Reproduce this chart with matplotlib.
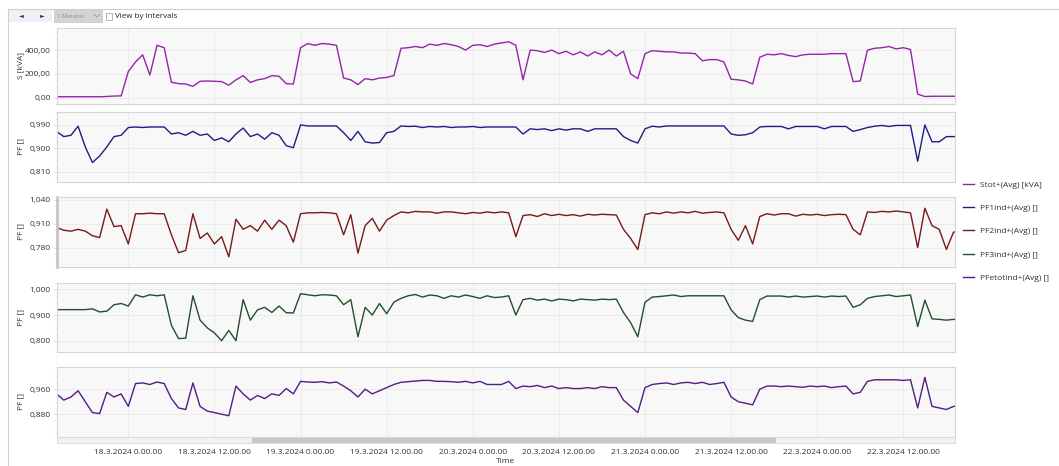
import matplotlib.pyplot as plt
from matplotlib.ticker import FuncFormatter, AutoMinorLocator
from matplotlib.patches import Rectangle
from matplotlib.lines import Line2D

plt.rcParams['font.family'] = ['Open Sans', 'DejaVu Sans']

# hours since 18.3.2024 0:00, one reading per hour
hours = list(range(-10, 117))

stot = [8, 8, 8, 8, 8, 8, 8, 10, 14, 15,
        220, 300, 360, 190, 440, 420, 130, 118, 115, 95,
        138, 140, 138, 135, 105, 150, 185, 128, 150, 160,
        185, 180, 118, 115, 420, 455, 440, 455, 450, 440,
        165, 150, 110, 160, 150, 165, 170, 185, 415, 420,
        430, 420, 450, 440, 455, 445, 430, 400, 440, 445,
        430, 450, 460, 470, 440, 150, 400, 395, 380, 400,
        370, 390, 360, 385, 350, 385, 360, 400, 350, 390,
        200, 160, 370, 395, 390, 385, 385, 375, 375, 370,
        310, 320, 320, 300, 155, 150, 140, 115, 340, 365,
        360, 370, 355, 345, 360, 365, 365, 365, 370, 370,
        370, 135, 140, 400, 415, 420, 430, 410, 420, 405,
        30, 10, 12, 12, 12, 12, 12]

pf1 = [0.965, 0.945, 0.950, 0.985, 0.905, 0.845, 0.870, 0.905, 0.945, 0.950,
       0.980, 0.982, 0.980, 0.982, 0.982, 0.982, 0.955, 0.960, 0.950, 0.965,
       0.950, 0.955, 0.930, 0.940, 0.925, 0.955, 0.978, 0.945, 0.955, 0.935,
       0.960, 0.950, 0.910, 0.902, 0.990, 0.986, 0.986, 0.986, 0.986, 0.986,
       0.960, 0.930, 0.965, 0.925, 0.920, 0.922, 0.960, 0.965, 0.986, 0.984,
       0.985, 0.980, 0.984, 0.982, 0.984, 0.980, 0.982, 0.982, 0.984, 0.980,
       0.982, 0.982, 0.982, 0.982, 0.982, 0.955, 0.975, 0.972, 0.975, 0.968,
       0.975, 0.970, 0.975, 0.975, 0.965, 0.975, 0.975, 0.975, 0.975, 0.945,
       0.930, 0.920, 0.975, 0.985, 0.982, 0.986, 0.986, 0.986, 0.986, 0.986,
       0.986, 0.986, 0.986, 0.986, 0.955, 0.950, 0.952, 0.960, 0.982, 0.984,
       0.984, 0.984, 0.975, 0.984, 0.984, 0.984, 0.984, 0.975, 0.984, 0.984,
       0.984, 0.965, 0.972, 0.980, 0.985, 0.988, 0.984, 0.988, 0.988, 0.988,
       0.850, 0.990, 0.925, 0.925, 0.945, 0.945, 0.945]

pf2 = [0.890, 0.875, 0.870, 0.880, 0.870, 0.845, 0.835, 0.990, 0.895, 0.900,
       0.800, 0.965, 0.965, 0.968, 0.965, 0.965, 0.850, 0.752, 0.765, 0.965,
       0.830, 0.860, 0.800, 0.840, 0.730, 0.935, 0.880, 0.900, 0.870, 0.930,
       0.880, 0.930, 0.900, 0.810, 0.965, 0.970, 0.970, 0.972, 0.970, 0.965,
       0.850, 0.960, 0.750, 0.900, 0.940, 0.870, 0.930, 0.955, 0.975, 0.970,
       0.978, 0.975, 0.975, 0.968, 0.975, 0.975, 0.970, 0.965, 0.972, 0.968,
       0.975, 0.970, 0.975, 0.970, 0.840, 0.955, 0.960, 0.950, 0.965, 0.955,
       0.962, 0.955, 0.960, 0.952, 0.962, 0.958, 0.962, 0.960, 0.958, 0.880,
       0.830, 0.770, 0.960, 0.970, 0.965, 0.975, 0.968, 0.975, 0.970, 0.978,
       0.968, 0.972, 0.975, 0.970, 0.880, 0.820, 0.900, 0.800, 0.950, 0.965,
       0.958, 0.965, 0.965, 0.952, 0.962, 0.958, 0.962, 0.955, 0.960, 0.962,
       0.960, 0.880, 0.850, 0.975, 0.972, 0.978, 0.975, 0.980, 0.975, 0.970,
       0.780, 0.995, 0.900, 0.880, 0.770, 0.865, 0.865]

pf3 = [0.921, 0.921, 0.921, 0.921, 0.921, 0.924, 0.912, 0.915, 0.940, 0.945,
       0.935, 0.979, 0.970, 0.979, 0.975, 0.979, 0.860, 0.808, 0.810, 0.975,
       0.880, 0.850, 0.830, 0.800, 0.840, 0.800, 0.960, 0.880, 0.920, 0.930,
       0.910, 0.935, 0.909, 0.908, 0.983, 0.979, 0.975, 0.979, 0.978, 0.975,
       0.940, 0.960, 0.815, 0.930, 0.900, 0.945, 0.905, 0.950, 0.965, 0.975,
       0.980, 0.970, 0.978, 0.975, 0.965, 0.975, 0.970, 0.978, 0.972, 0.965,
       0.975, 0.968, 0.970, 0.975, 0.900, 0.960, 0.965, 0.958, 0.962, 0.955,
       0.962, 0.960, 0.955, 0.962, 0.960, 0.958, 0.962, 0.960, 0.962, 0.910,
       0.870, 0.815, 0.950, 0.970, 0.972, 0.975, 0.978, 0.972, 0.975, 0.975,
       0.975, 0.975, 0.975, 0.975, 0.920, 0.890, 0.880, 0.875, 0.960, 0.974,
       0.974, 0.974, 0.970, 0.974, 0.970, 0.972, 0.974, 0.970, 0.974, 0.972,
       0.974, 0.930, 0.940, 0.965, 0.972, 0.975, 0.978, 0.972, 0.975, 0.978,
       0.855, 0.958, 0.885, 0.883, 0.880, 0.883, 0.883]

pfetot = [0.945, 0.925, 0.935, 0.955, 0.920, 0.885, 0.882, 0.950, 0.935, 0.945,
          0.905, 0.978, 0.980, 0.975, 0.983, 0.978, 0.930, 0.900, 0.895, 0.980,
          0.905, 0.890, 0.885, 0.880, 0.875, 0.970, 0.945, 0.925, 0.940, 0.930,
          0.945, 0.940, 0.962, 0.945, 0.985, 0.983, 0.982, 0.984, 0.980, 0.983,
          0.970, 0.955, 0.935, 0.960, 0.945, 0.955, 0.965, 0.975, 0.982, 0.984,
          0.986, 0.988, 0.988, 0.985, 0.985, 0.984, 0.982, 0.985, 0.980, 0.985,
          0.975, 0.975, 0.975, 0.985, 0.962, 0.970, 0.968, 0.972, 0.965, 0.970,
          0.962, 0.965, 0.962, 0.962, 0.965, 0.962, 0.968, 0.965, 0.965, 0.925,
          0.905, 0.885, 0.965, 0.975, 0.978, 0.980, 0.975, 0.980, 0.982, 0.978,
          0.982, 0.975, 0.978, 0.982, 0.935, 0.920, 0.915, 0.910, 0.960, 0.970,
          0.970, 0.968, 0.970, 0.968, 0.966, 0.970, 0.968, 0.970, 0.965, 0.968,
          0.970, 0.945, 0.950, 0.985, 0.990, 0.990, 0.990, 0.990, 0.988, 0.990,
          0.900, 0.998, 0.905, 0.900, 0.895, 0.905, 0.905]

names = ['Stot+(Avg) [kVA]', 'PF1ind+(Avg) []', 'PF2ind+(Avg) []',
         'PF3ind+(Avg) []', 'PFetotind+(Avg) []']
y_labels = ['S [kVA]', 'PF []', 'PF []', 'PF []', 'PF []']
y_ticks = [[0, 200, 400], [0.81, 0.90, 0.99], [0.78, 0.91, 1.04],
           [0.80, 0.90, 1.00], [0.88, 0.96]]

tick_hours = [0, 12, 24, 36, 48, 60, 72, 84, 96, 108]
tick_labels = ['18.3.2024 0.00.00', '18.3.2024 12.00.00', '19.3.2024 0.00.00',
               '19.3.2024 12.00.00', '20.3.2024 0.00.00', '20.3.2024 12.00.00',
               '21.3.2024 0.00.00', '21.3.2024 12.00.00', '22.3.2024 0.00.00',
               '22.3.2024 12.00.00']

series = [stot, pf1, pf2, pf3, pfetot]
colors = ['#9326a8', '#1c1f82', '#761a1a', '#22502a', '#521e82']
y_limits = [(-53, 588), (0.771, 1.041), (0.676, 1.058), (0.757, 1.026), (0.808, 1.030)]
panel_px = [(27.7, 104), (111.7, 181.7), (196.7, 266.7), (282.7, 351.7), (367.3, 436.7)]

W, H = 1059, 466
TXT = '#333333'


def box(left, top, right, bottom):
    return [left / W, 1 - bottom / H, (right - left) / W, (bottom - top) / H]


def kva_fmt(v, pos):
    return f'{v:.2f}'.replace('.', ',')


def pf_fmt(v, pos):
    return f'{v:.3f}'.replace('.', ',')


fig = plt.figure(figsize=(W / 100, H / 100), dpi=100)
fig.patch.set_facecolor('white')

# outer frame and toolbar
fig.add_artist(Line2D([8 / W, 8 / W], [0, 1 - 9 / H], color='#cfcfcf', lw=0.8))
fig.add_artist(Line2D([8 / W, 1], [1 - 9 / H, 1 - 9 / H], color='#cfcfcf', lw=0.8))
fig.add_artist(Rectangle((9 / W, 1 - 22 / H), 43 / W, 12 / H, facecolor='#eef0f3',
                         edgecolor='none', transform=fig.transFigure))
fig.text(21 / W, 1 - 16 / H, '\u25c4', fontsize=4.5, color='#1e3c78',
         ha='center', va='center', family='DejaVu Sans')
fig.text(42 / W, 1 - 16 / H, '\u25ba', fontsize=4.5, color='#1e3c78',
         ha='center', va='center', family='DejaVu Sans')
fig.add_artist(Rectangle((54 / W, 1 - 22 / H), 48 / W, 12 / H, facecolor='#d4d4d4',
                         edgecolor='#c4c4c4', lw=0.5, transform=fig.transFigure))
fig.text(57 / W, 1 - 16 / H, '1 Minutes', fontsize=4.2, color='#8a8a8a', va='center')
fig.add_artist(Line2D([94 / W, 97 / W, 100 / W], [1 - 14.5 / H, 1 - 17 / H, 1 - 14.5 / H],
                      color='#9a9a9a', lw=0.6))
fig.add_artist(Rectangle((106 / W, 1 - 20 / H), 6 / W, 7 / H, facecolor='white',
                         edgecolor='#a8a8a8', lw=0.6, transform=fig.transFigure))
fig.text(115 / W, 1 - 16 / H, 'View by intervals', fontsize=5.8, color='#222222', va='center')

axes = []
for i, (vals, col) in enumerate(zip(series, colors)):
    top, bottom = panel_px[i]
    ax = fig.add_axes(box(57, top, 955, bottom))
    ax.set_facecolor('#f8f8f8')
    ax.plot(hours, vals, color=col, lw=1.0)
    ax.set_xlim(-9.94, 115.2)
    ax.set_ylim(*y_limits[i])
    ax.set_yticks(y_ticks[i])
    ax.yaxis.set_major_formatter(FuncFormatter(kva_fmt if i == 0 else pf_fmt))
    ax.yaxis.set_minor_locator(AutoMinorLocator(4))
    ax.set_xticks(tick_hours)
    ax.set_xticklabels([])
    ax.grid(True, which='major', color='#e9e9e9', lw=0.6)
    ax.tick_params(axis='y', which='major', labelsize=6, labelcolor=TXT,
                   length=2.5, width=0.5, color='#c8c8c8', pad=2)
    ax.tick_params(axis='y', which='minor', length=1.5, width=0.4, color='#d0d0d0')
    ax.tick_params(axis='x', length=0)
    for sp in ax.spines.values():
        sp.set_color('#d6d6d6')
        sp.set_linewidth(0.8)
    ax.set_ylabel(y_labels[i], fontsize=6, color=TXT)
    ax.yaxis.set_label_coords(-0.037, 0.5)
    axes.append(ax)

axes[2].spines['left'].set_linewidth(2.0)
axes[2].spines['left'].set_color('#c6c6c6')

bottom_ax = axes[-1]
bottom_ax.set_xticklabels(tick_labels)
bottom_ax.tick_params(axis='x', labelsize=6, labelcolor=TXT, pad=8.5)
bottom_ax.set_xlabel('Time', fontsize=6, color=TXT, labelpad=1.5)

# scrollbar under the bottom panel
sb = fig.add_axes(box(57, 437, 955, 443))
sb.set_xlim(0, 1)
sb.set_ylim(0, 1)
sb.set_facecolor('#f2f2f2')
sb.axvspan((252 - 57) / 898, (775 - 57) / 898, color='#c9c9c9')
sb.set_xticks([])
sb.set_yticks([])
for sp in sb.spines.values():
    sp.set_color('#d8d8d8')
    sp.set_linewidth(0.6)

handles = [ax.lines[0] for ax in axes]
fig.legend(handles, names, loc='upper left', bbox_to_anchor=(963 / W, 1 - 181 / H),
           frameon=False, fontsize=6, handlelength=1.3, handletextpad=0.8,
           labelspacing=1.85, borderpad=0, borderaxespad=0, labelcolor=TXT)

fig.savefig('out.png', dpi=100, facecolor='white')
